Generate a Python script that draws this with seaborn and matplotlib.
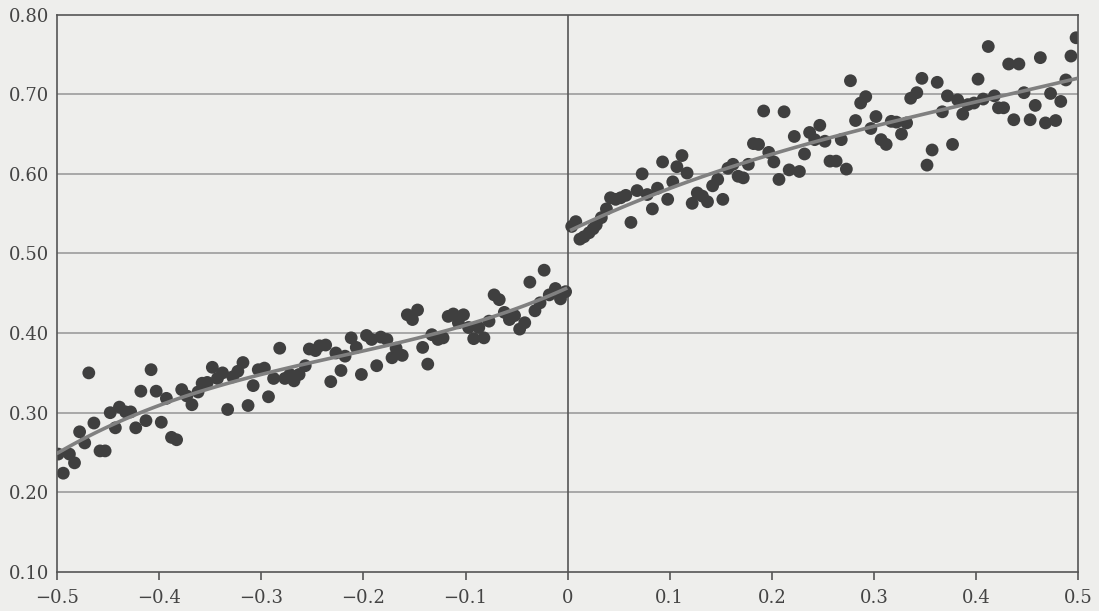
import numpy as np
import pandas as pd
import matplotlib
matplotlib.use("Agg")
import matplotlib.pyplot as plt
import seaborn as sns

# binned scores below the cutoff (x < 0)
left_x = [-0.499, -0.494, -0.488, -0.483, -0.478, -0.473, -0.469, -0.464, -0.458, -0.453,
          -0.448, -0.443, -0.439, -0.433, -0.428, -0.423, -0.418, -0.413, -0.408, -0.403,
          -0.398, -0.393, -0.388, -0.383, -0.378, -0.373, -0.368, -0.362, -0.358, -0.353,
          -0.348, -0.343, -0.338, -0.333, -0.328, -0.323, -0.318, -0.313, -0.308, -0.303,
          -0.297, -0.293, -0.288, -0.282, -0.277, -0.272, -0.268, -0.263, -0.257, -0.253,
          -0.247, -0.243, -0.237, -0.232, -0.227, -0.222, -0.218, -0.212, -0.207, -0.202,
          -0.197, -0.192, -0.187, -0.183, -0.177, -0.172, -0.168, -0.162, -0.157, -0.152,
          -0.147, -0.142, -0.137, -0.133, -0.127, -0.122, -0.117, -0.112, -0.107, -0.102,
          -0.097, -0.092, -0.087, -0.082, -0.077, -0.072, -0.067, -0.062, -0.057, -0.052,
          -0.047, -0.042, -0.037, -0.032, -0.027, -0.023, -0.018, -0.012, -0.007, -0.002]
left_y = [0.248, 0.224, 0.248, 0.237, 0.276, 0.262, 0.350, 0.287, 0.252, 0.252,
          0.300, 0.281, 0.307, 0.301, 0.301, 0.281, 0.327, 0.290, 0.354, 0.327,
          0.288, 0.318, 0.269, 0.266, 0.329, 0.321, 0.310, 0.326, 0.337, 0.338,
          0.357, 0.343, 0.350, 0.304, 0.345, 0.352, 0.363, 0.309, 0.334, 0.354,
          0.356, 0.320, 0.343, 0.381, 0.343, 0.348, 0.340, 0.348, 0.359, 0.380,
          0.378, 0.384, 0.385, 0.339, 0.375, 0.353, 0.371, 0.394, 0.382, 0.348,
          0.397, 0.392, 0.359, 0.395, 0.392, 0.369, 0.381, 0.372, 0.423, 0.417,
          0.429, 0.382, 0.361, 0.398, 0.392, 0.394, 0.421, 0.424, 0.413, 0.423,
          0.407, 0.393, 0.407, 0.394, 0.415, 0.448, 0.442, 0.426, 0.417, 0.422,
          0.405, 0.413, 0.464, 0.428, 0.438, 0.479, 0.448, 0.456, 0.443, 0.452]

# binned scores above the cutoff (x > 0)
right_x = [0.004, 0.008, 0.012, 0.016, 0.021, 0.025, 0.028, 0.033, 0.038, 0.042,
           0.047, 0.052, 0.057, 0.062, 0.068, 0.073, 0.078, 0.083, 0.088, 0.093,
           0.098, 0.103, 0.107, 0.112, 0.117, 0.122, 0.127, 0.132, 0.137, 0.142,
           0.147, 0.152, 0.157, 0.162, 0.167, 0.172, 0.177, 0.182, 0.187, 0.192,
           0.197, 0.202, 0.207, 0.212, 0.217, 0.222, 0.227, 0.232, 0.237, 0.242,
           0.247, 0.252, 0.257, 0.263, 0.268, 0.273, 0.277, 0.282, 0.287, 0.292,
           0.297, 0.302, 0.307, 0.312, 0.317, 0.322, 0.327, 0.332, 0.336, 0.342,
           0.347, 0.352, 0.357, 0.362, 0.367, 0.372, 0.377, 0.382, 0.387, 0.392,
           0.398, 0.402, 0.407, 0.412, 0.418, 0.422, 0.427, 0.432, 0.437, 0.442,
           0.447, 0.453, 0.458, 0.463, 0.468, 0.473, 0.478, 0.483, 0.488, 0.493, 0.498]
right_y = [0.534, 0.540, 0.518, 0.521, 0.526, 0.531, 0.536, 0.545, 0.556, 0.570,
           0.568, 0.570, 0.573, 0.539, 0.579, 0.600, 0.574, 0.556, 0.582, 0.615,
           0.568, 0.590, 0.609, 0.623, 0.601, 0.563, 0.576, 0.572, 0.565, 0.585,
           0.593, 0.568, 0.607, 0.612, 0.597, 0.595, 0.612, 0.638, 0.637, 0.679,
           0.627, 0.615, 0.593, 0.678, 0.605, 0.647, 0.603, 0.625, 0.652, 0.643,
           0.661, 0.641, 0.616, 0.616, 0.643, 0.606, 0.717, 0.667, 0.689, 0.697,
           0.657, 0.672, 0.643, 0.637, 0.666, 0.665, 0.650, 0.664, 0.695, 0.702,
           0.720, 0.611, 0.630, 0.715, 0.678, 0.698, 0.637, 0.693, 0.675, 0.687,
           0.689, 0.719, 0.694, 0.760, 0.698, 0.683, 0.683, 0.738, 0.668, 0.738,
           0.702, 0.668, 0.686, 0.746, 0.664, 0.701, 0.667, 0.691, 0.718, 0.748, 0.771]

x_ticks = [-0.5, -0.4, -0.3, -0.2, -0.1, 0, 0.1, 0.2, 0.3, 0.4, 0.5]
x_labels = ["\u22120.5", "\u22120.4", "\u22120.3", "\u22120.2", "\u22120.1", "0",
            "0.1", "0.2", "0.3", "0.4", "0.5"]
y_ticks = [0.10, 0.20, 0.30, 0.40, 0.50, 0.60, 0.70, 0.80]

left = pd.DataFrame({"x": left_x, "y": left_y})
right = pd.DataFrame({"x": right_x, "y": right_y})

bg = "#eeeeec"
plt.rcParams["font.family"] = ["DejaVu Serif"]
fig = plt.figure(figsize=(10.99, 6.11), dpi=100, facecolor=bg)
ax = fig.add_axes([0.052, 0.064, 0.929, 0.912])
ax.set_facecolor(bg)

for y in y_ticks[1:-1]:
    ax.axhline(y, color="#9c9c9c", lw=1.2, zorder=0)
ax.axvline(0, color="#555555", lw=1.2, zorder=0)

for d in (left, right):
    sns.scatterplot(data=d, x="x", y="y", ax=ax, s=85, color="#3f3f3f",
                    edgecolor="none", zorder=2)
    sns.regplot(data=d, x="x", y="y", ax=ax, order=3, ci=None, scatter=False,
                truncate=True, line_kws={"color": "#808080", "lw": 2.6, "zorder": 3})

ax.set_xlim(-0.5, 0.5)
ax.set_ylim(0.10, 0.80)
ax.set_xticks(x_ticks)
ax.set_xticklabels(x_labels)
ax.set_yticks(y_ticks)
ax.set_yticklabels([f"{v:.2f}" for v in y_ticks])
ax.tick_params(axis="x", length=6, width=1.2, color="#555555", labelsize=13,
               labelcolor="#444444", pad=6)
ax.tick_params(axis="y", length=0, labelsize=13, labelcolor="#444444", pad=6)
for s in ax.spines.values():
    s.set_color("#555555")
    s.set_linewidth(1.2)
ax.set_xlabel("")
ax.set_ylabel("")

fig.savefig("out.png", dpi=100, facecolor=bg)
